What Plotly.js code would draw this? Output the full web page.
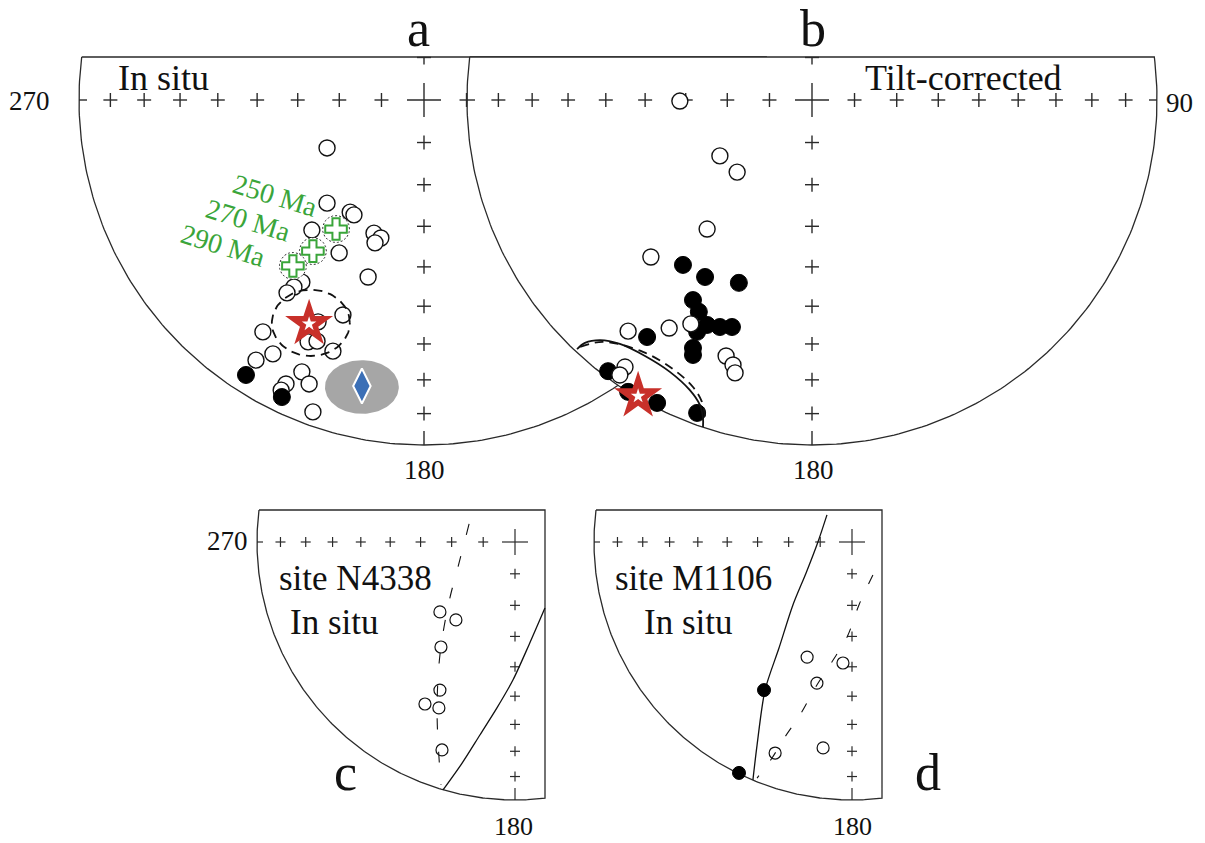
<!DOCTYPE html>
<html><head><meta charset="utf-8">
<script src="https://cdn.plot.ly/plotly-3.0.1.min.js"></script>
<style>html,body{margin:0;padding:0;background:#fff}#chart{width:1205px;height:843px}</style>
</head><body><div id="chart"></div>
<script>
// ---------- DATA (equal-area net coordinates, unit = net radius; east, north) ----------
const tickInclinations = [10,20,30,40,50,60,70,80];

// Panel a: In situ
const aOpenEast  = [-0.281,-0.281,-0.214,-0.203,-0.325,-0.145,-0.125,-0.142,-0.246,-0.162,-0.354,-0.377,-0.397,-0.235,-0.307,-0.467,-0.336,-0.310,-0.264,-0.438,-0.487,-0.354,-0.333,-0.400,-0.414,-0.322];
const aOpenNorth = [-0.139,-0.299,-0.325,-0.333,-0.377,-0.386,-0.400,-0.414,-0.443,-0.513,-0.528,-0.542,-0.559,-0.623,-0.643,-0.672,-0.701,-0.699,-0.728,-0.736,-0.754,-0.788,-0.823,-0.823,-0.841,-0.904];
const aFilledEast  = [-0.516,-0.412];
const aFilledNorth = [-0.797,-0.861];
const aMean = {east:-0.333, north:-0.649};
const aMeanA95 = {east:-0.328, north:-0.646, semiE:0.113, semiN:0.096};
const refPole = {east:-0.180, north:-0.829};
const refPoleA95 = {east:-0.180, north:-0.832, semiE:0.107, semiN:0.078};
const apwpLabels = ['250 Ma','270 Ma','290 Ma'];
const apwpEast  = [-0.255,-0.322,-0.380];
const apwpNorth = [-0.374,-0.438,-0.481];
const apwpA95 = 0.039;

// Panel b: Tilt-corrected
const bOpenEast  = [-0.383,-0.267,-0.217,-0.304,-0.467,-0.533,-0.414,-0.351,-0.249,-0.229,-0.223,-0.542,-0.557];
const bOpenNorth = [-0.003,-0.162,-0.209,-0.374,-0.455,-0.670,-0.661,-0.649,-0.742,-0.768,-0.791,-0.774,-0.797];
const bFilledEast  = [-0.374,-0.310,-0.212,-0.345,-0.328,-0.304,-0.267,-0.232,-0.333,-0.478,-0.345,-0.345,-0.591,-0.533,-0.449,-0.333];
const bFilledNorth = [-0.478,-0.513,-0.530,-0.580,-0.614,-0.652,-0.658,-0.658,-0.672,-0.687,-0.719,-0.739,-0.786,-0.846,-0.878,-0.907];
const bMean = {east:-0.504, north:-0.858};
const bConeSolidEast  = [-0.681,-0.658,-0.614,-0.557,-0.484,-0.412,-0.354,-0.325,-0.316,-0.316];
const bConeSolidNorth = [-0.722,-0.704,-0.696,-0.707,-0.742,-0.788,-0.841,-0.884,-0.922,-0.948];
const bConeDashEast  = [-0.672,-0.606,-0.490,-0.403,-0.345,-0.319,-0.310];
const bConeDashNorth = [-0.716,-0.701,-0.730,-0.780,-0.832,-0.875,-0.922];

// Panel c: site N4338
const cOpenEast  = [-0.291,-0.229,-0.287,-0.291,-0.349,-0.295,-0.283];
const cOpenNorth = [-0.271,-0.302,-0.407,-0.574,-0.628,-0.643,-0.806];
const cDashEast  = [-0.178,-0.221,-0.256,-0.291,-0.302,-0.291,-0.287];
const cDashNorth = [0.070,-0.097,-0.233,-0.438,-0.659,-0.891,-0.942];
const cSolidEast  = [0.116,0.054,-0.008,-0.070,-0.136,-0.205,-0.279];
const cSolidNorth = [-0.256,-0.399,-0.535,-0.643,-0.748,-0.857,-0.961];

// Panel d: site M1106
const dOpenEast  = [-0.174,-0.035,-0.136,-0.112,-0.298];
const dOpenNorth = [-0.446,-0.469,-0.547,-0.798,-0.818];
const dFilledEast  = [-0.341,-0.438];
const dFilledNorth = [-0.574,-0.895];
const dSolidEast  = [-0.097,-0.132,-0.178,-0.229,-0.283,-0.337,-0.368,-0.384];
const dSolidNorth = [0.105,0.000,-0.120,-0.244,-0.411,-0.574,-0.787,-0.922];
const dDashEast  = [0.081,0.027,-0.019,-0.078,-0.136,-0.202,-0.260,-0.310,-0.368];
const dDashNorth = [-0.128,-0.244,-0.368,-0.465,-0.554,-0.671,-0.756,-0.837,-0.915];

// ---------- LAYOUT GEOMETRY ----------
const W = 1205, H = 843;
const nets = {
  a:{cx:424, cy:100, R:345, top:57},
  b:{cx:812, cy:100, R:345, top:57},
  c:{cx:515, cy:542, R:258, top:510, right:545},
  d:{cx:852, cy:542, R:258, top:510, right:882}
};
const LC = '#2a2a2a';
const SERIF = '"Liberation Serif", "DejaVu Serif", serif';
const rad = I => Math.SQRT2*Math.sin((90-I)/2*Math.PI/180);

function axisRanges(n){
  return {x:[(0-n.cx)/n.R,(W-n.cx)/n.R], y:[(n.cy-H)/n.R, n.cy/n.R]};
}
function seg(s,u1,v1,u2,v2){ s.x.push(u1,u2,null); s.y.push(v1,v2,null); }
function cross(s,u,v,a,topV){
  seg(s,u-a,v,u+a,v);
  seg(s,u,v-a,u,Math.min(v+a,topV));
}
function netTicks(n, opt){
  const s={x:[],y:[]}; const topV=(n.cy-n.top)/n.R;
  const a=opt.arm/n.R, big=opt.big/n.R;
  tickInclinations.forEach(I=>{
    const r=rad(I);
    cross(s,-r,0,a,topV);
    if(opt.right) cross(s,r,0,a,topV);
    cross(s,0,-r,a,topV);
  });
  if(opt.up) cross(s,0,rad(80),a,topV);
  seg(s,-big,0,big,0); seg(s,0,-big,0,Math.min(big,topV));
  seg(s,-1,0,-1+opt.edge/n.R,0);
  if(opt.right) seg(s,1,0,1-opt.edge/n.R,0);
  seg(s,0,-1,0,-1+opt.edgeB/n.R);
  return s;
}
function outline(n){
  const topV=(n.cy-n.top)/n.R, t0=Math.asin(topV);
  const x=[],y=[];
  let tEnd = 2*Math.PI+t0;
  if(n.right!==undefined){ tEnd = 1.5*Math.PI+Math.asin((n.right-n.cx)/n.R); }
  const N=240;
  for(let i=0;i<=N;i++){ const t=(Math.PI-t0)+(tEnd-(Math.PI-t0))*i/N; x.push(Math.cos(t)); y.push(Math.sin(t)); }
  if(n.right!==undefined){ const ru=(n.right-n.cx)/n.R; x.push(ru,ru); y.push(y[y.length-1],topV); }
  x.push(x[0]); y.push(topV);
  return {x,y};
}
function ellipse(c,se,sn){
  const x=[],y=[];
  for(let i=0;i<=120;i++){const t=2*Math.PI*i/120; x.push(c.east+se*Math.cos(t)); y.push(c.north+sn*Math.sin(t));}
  return {x,y};
}

const traces=[];
function T(ax, obj){ obj.xaxis='x'+(ax===1?'':ax); obj.yaxis='y'+(ax===1?'':ax); obj.showlegend=false; obj.hoverinfo='skip'; traces.push(obj); }

// ----- panel a (axis 1) -----
let o=outline(nets.a);
T(1,{type:'scatter',mode:'lines',x:o.x,y:o.y,line:{color:LC,width:1.3}});
let tk=netTicks(nets.a,{arm:7,big:17,edge:8,edgeB:14,right:true,up:true});
T(1,{type:'scatter',mode:'lines',x:tk.x,y:tk.y,line:{color:LC,width:1.4}});
let e=ellipse(refPoleA95,refPoleA95.semiE,refPoleA95.semiN);
T(1,{type:'scatter',mode:'lines',x:e.x,y:e.y,fill:'toself',fillcolor:'#a6a6a6',line:{width:0,color:'#a6a6a6'}});
T(1,{type:'scatter',mode:'markers',x:[refPole.east],y:[refPole.north],marker:{symbol:'diamond-tall',size:25,color:'#3b6fb6',line:{color:'#ffffff',width:2}}});
T(1,{type:'scatter',mode:'markers',x:aOpenEast,y:aOpenNorth,marker:{symbol:'circle',size:16,color:'#ffffff',line:{color:'#111',width:1.4}}});
T(1,{type:'scatter',mode:'markers',x:aFilledEast,y:aFilledNorth,marker:{symbol:'circle',size:17,color:'#000',line:{color:'#000',width:1}}});
e=ellipse(aMeanA95,aMeanA95.semiE,aMeanA95.semiN);
T(1,{type:'scatter',mode:'lines',x:e.x,y:e.y,line:{color:'#111',width:1.8,dash:'9px,6px'}});
apwpEast.forEach((ue,i)=>{
  const c=ellipse({east:ue,north:apwpNorth[i]},apwpA95,apwpA95);
  T(1,{type:'scatter',mode:'lines',x:c.x,y:c.y,fill:'toself',fillcolor:'#ffffff',line:{color:'#333',width:1,dash:'2px,2px'}});
});
T(1,{type:'scatter',mode:'markers',x:apwpEast,y:apwpNorth,marker:{symbol:'cross',size:18,color:'#ffffff',line:{color:'#3aa53a',width:2}}});
T(1,{type:'scatter',mode:'markers',x:[aMean.east],y:[aMean.north],marker:{symbol:'star',size:36,color:'#c8302a',line:{width:0}}});
T(1,{type:'scatter',mode:'markers',x:[aMean.east],y:[aMean.north],marker:{symbol:'star',size:11,color:'#ffffff',line:{width:0}}});

// ----- panel b (axis 2) -----
o=outline(nets.b);
T(2,{type:'scatter',mode:'lines',x:o.x,y:o.y,fill:'toself',fillcolor:'#ffffff',line:{color:LC,width:1.3}});
tk=netTicks(nets.b,{arm:7,big:17,edge:8,edgeB:14,right:true,up:true});
T(2,{type:'scatter',mode:'lines',x:tk.x,y:tk.y,line:{color:LC,width:1.4}});
T(2,{type:'scatter',mode:'markers',x:bFilledEast,y:bFilledNorth,marker:{symbol:'circle',size:17,color:'#000',line:{color:'#000',width:1}}});
T(2,{type:'scatter',mode:'markers',x:bOpenEast,y:bOpenNorth,marker:{symbol:'circle',size:16,color:'#ffffff',line:{color:'#111',width:1.4}}});
T(2,{type:'scatter',mode:'lines',x:bConeSolidEast,y:bConeSolidNorth,line:{color:'#111',width:1.8,shape:'spline'}});
T(2,{type:'scatter',mode:'lines',x:bConeDashEast,y:bConeDashNorth,line:{color:'#111',width:1.8,dash:'9px,6px',shape:'spline'}});
T(2,{type:'scatter',mode:'markers',x:[bMean.east],y:[bMean.north],marker:{symbol:'star',size:36,color:'#c8302a',line:{width:0}}});
T(2,{type:'scatter',mode:'markers',x:[bMean.east],y:[bMean.north],marker:{symbol:'star',size:11,color:'#ffffff',line:{width:0}}});

// ----- panel c (axis 3) -----
o=outline(nets.c);
T(3,{type:'scatter',mode:'lines',x:o.x,y:o.y,line:{color:LC,width:1.3}});
tk=netTicks(nets.c,{arm:5,big:13,edge:6,edgeB:12,right:false,up:false});
T(3,{type:'scatter',mode:'lines',x:tk.x,y:tk.y,line:{color:LC,width:1.2}});
T(3,{type:'scatter',mode:'lines',x:cSolidEast,y:cSolidNorth,line:{color:'#111',width:1.3,shape:'spline',smoothing:0.8}});
T(3,{type:'scatter',mode:'lines',x:cDashEast,y:cDashNorth,line:{color:'#111',width:1.1,dash:'11px,22px',shape:'spline'}});
T(3,{type:'scatter',mode:'markers',x:cOpenEast,y:cOpenNorth,marker:{symbol:'circle',size:12,color:'rgba(255,255,255,0)',line:{color:'#111',width:1.2}}});

// ----- panel d (axis 4) -----
o=outline(nets.d);
T(4,{type:'scatter',mode:'lines',x:o.x,y:o.y,line:{color:LC,width:1.3}});
tk=netTicks(nets.d,{arm:5,big:13,edge:6,edgeB:12,right:false,up:false});
T(4,{type:'scatter',mode:'lines',x:tk.x,y:tk.y,line:{color:LC,width:1.2}});
T(4,{type:'scatter',mode:'lines',x:dSolidEast,y:dSolidNorth,line:{color:'#111',width:1.3,shape:'spline',smoothing:0.8}});
T(4,{type:'scatter',mode:'lines',x:dDashEast,y:dDashNorth,line:{color:'#111',width:1.1,dash:'10px,19px',shape:'spline'}});
T(4,{type:'scatter',mode:'markers',x:dOpenEast,y:dOpenNorth,marker:{symbol:'circle',size:12,color:'rgba(255,255,255,0)',line:{color:'#111',width:1.2}}});
T(4,{type:'scatter',mode:'markers',x:dFilledEast,y:dFilledNorth,marker:{symbol:'circle',size:13,color:'#000',line:{color:'#000',width:1}}});

// ---------- AXES ----------
const layout={width:W,height:H,margin:{l:0,r:0,t:0,b:0},paper_bgcolor:'#fff',plot_bgcolor:'#fff',showlegend:false,annotations:[]};
['a','b','c','d'].forEach((k,i)=>{
  const r=axisRanges(nets[k]); const id=i===0?'':String(i+1);
  const base={domain:[0,1],visible:false,showgrid:false,zeroline:false,fixedrange:true};
  layout['xaxis'+id]=Object.assign({},base,{range:r.x},i?{overlaying:'x'}:{});
  layout['yaxis'+id]=Object.assign({},base,{range:r.y},i?{overlaying:'y'}:{});
});

// ---------- TEXT ----------
const PX=x=>x/W, PY=y=>1-y/H;
function txt(t,x,y,size,opt){
  layout.annotations.push(Object.assign({text:t,x:PX(x),y:PY(y),xref:'paper',yref:'paper',showarrow:false,xanchor:'center',yanchor:'middle',font:{family:SERIF,size:size,color:'#111'}},opt||{}));
}
txt('a',418,28,52); txt('b',813,28,52);
txt('270',30,101,27); txt('90',1179,103,27);
txt('180',424,470,27); txt('180',813,470,27);
txt('In situ',116,78,36,{xanchor:'left'});
txt('Tilt-corrected',863,78,36,{xanchor:'left'});
txt('270',227,541,27);
txt('180',513,826,26); txt('180',852,826,26);
txt('site N4338',277,578,35,{xanchor:'left'});
txt('In situ',288,622,35,{xanchor:'left'});
txt('site M1106',613,578,35,{xanchor:'left'});
txt('In situ',642,622,35,{xanchor:'left'});
txt('c',345,772,52); txt('d',928,772,52);
const apwpLabelPos=[[275,195],[249,220],[223,245]];
apwpLabels.forEach((l,i)=>txt(l,apwpLabelPos[i][0],apwpLabelPos[i][1],28,{textangle:17,font:{family:SERIF,size:28,color:'#3aa53a'}}));

Plotly.newPlot('chart',traces,layout,{staticPlot:true,displayModeBar:false});
</script></body></html>
